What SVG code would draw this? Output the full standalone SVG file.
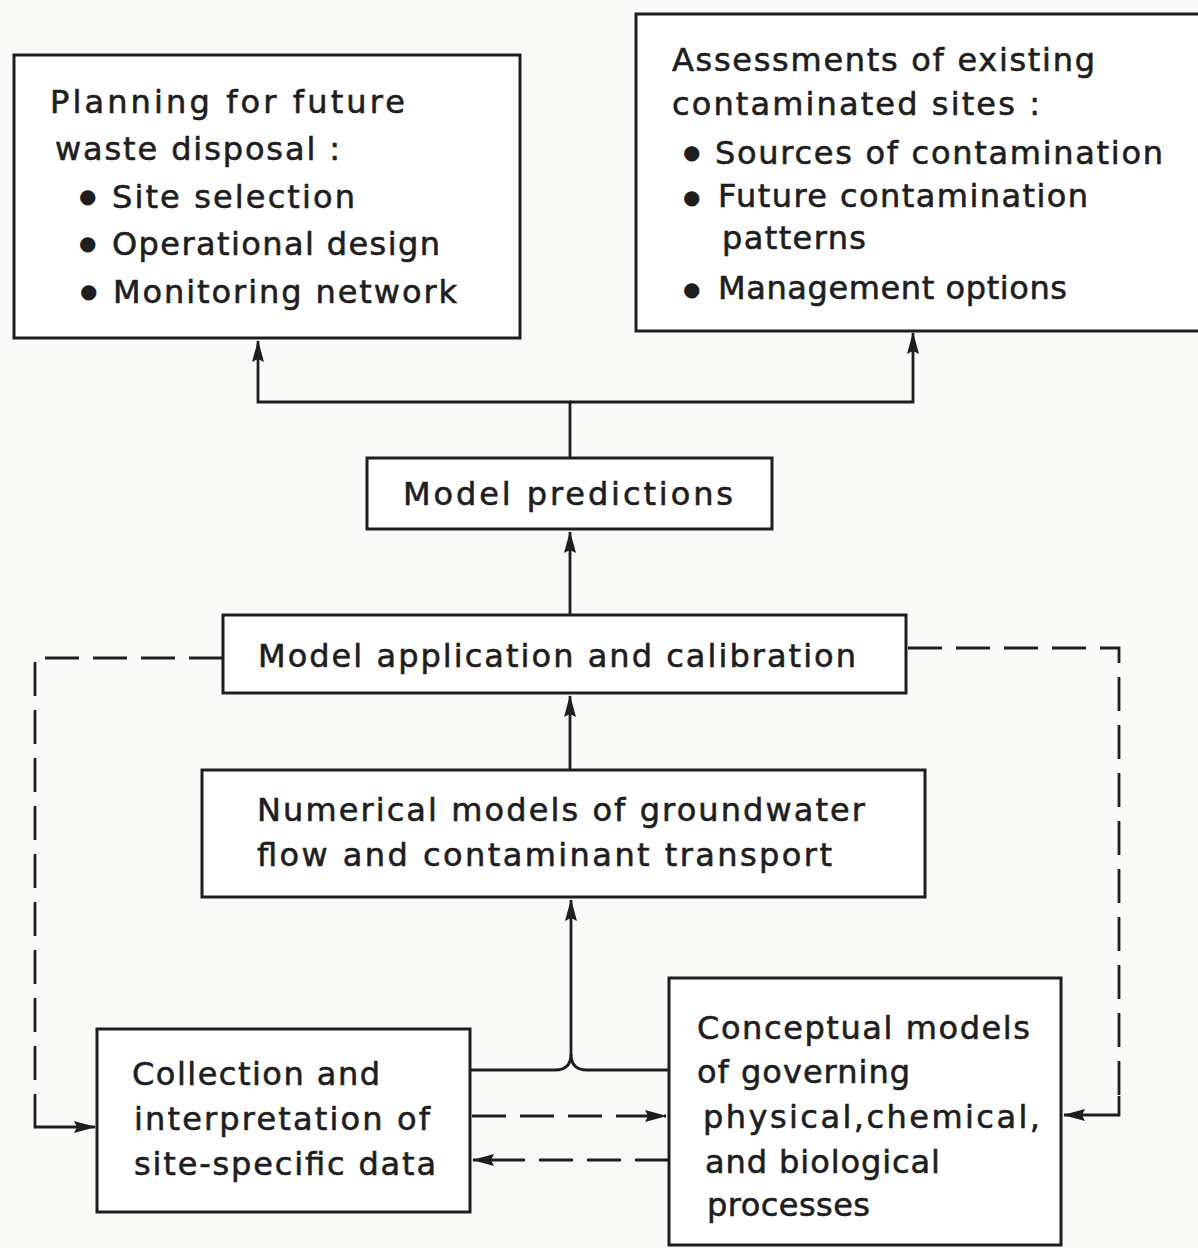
<svg xmlns="http://www.w3.org/2000/svg" width="1198" height="1248" viewBox="0 0 1198 1248">
  <defs>
    <style>
      .box { fill: #ffffff; stroke: #1e1e1e; stroke-width: 3; }
      .t { font-family: "DejaVu Sans", "Liberation Sans", sans-serif; font-size: 32px; fill: #1e1e1e; stroke: #1e1e1e; stroke-width: 0.6; }
      .b { font-family: "DejaVu Sans", "Liberation Sans", sans-serif; font-size: 20px; fill: #1e1e1e; }
      .line { fill: none; stroke: #1e1e1e; stroke-width: 2.8; }
      .dash { fill: none; stroke: #1e1e1e; stroke-width: 2.8; stroke-dasharray: 34 14; }
    </style>
    <marker id="arr" markerWidth="22" markerHeight="14" refX="21" refY="7" orient="auto" markerUnits="userSpaceOnUse">
      <path d="M0,1 L22,7 L0,13 L3,7 Z" fill="#1e1e1e"/>
    </marker>
  </defs>
  <rect x="0" y="0" width="1198" height="1248" fill="#fafaf8"/>

  <g id="connectors">
    <path class="line" d="M570,458 V402 H258 V341" marker-end="url(#arr)"/>
    <path class="line" d="M570,402 H913 V333" marker-end="url(#arr)"/>
    <path class="line" d="M570,615 V532" marker-end="url(#arr)"/>
    <path class="line" d="M570,770 V696" marker-end="url(#arr)"/>
    <path class="line" d="M470,1070 H555 Q571,1070 571,1054 V900" marker-end="url(#arr)"/>
    <path class="line" d="M669,1070 H587 Q571,1070 571,1054"/>
    <path class="dash" d="M223,658 H35 V1092"/>
    <path class="line" d="M35,1094 V1127 H95" marker-end="url(#arr)"/>
    <path class="dash" d="M908,648 H1119 V1098"/>
    <path class="line" d="M1119,1096 V1115 H1064" marker-end="url(#arr)"/>
    <path class="dash" d="M472,1116 H666" marker-end="url(#arr)"/>
    <path class="dash" d="M669,1160 H473" marker-end="url(#arr)"/>
  </g>

  <g id="planning">
    <rect class="box" x="14" y="55" width="506" height="283"/>
    <text class="t" x="50" y="113" textLength="355" lengthAdjust="spacing">Planning for future</text>
    <text class="t" x="55" y="160" textLength="285" lengthAdjust="spacing">waste disposal :</text>
    <text class="b" x="79" y="203">●</text>
    <text class="t" x="112" y="208" textLength="243" lengthAdjust="spacing">Site selection</text>
    <text class="b" x="79" y="250">●</text>
    <text class="t" x="112" y="255" textLength="328" lengthAdjust="spacing">Operational design</text>
    <text class="b" x="80" y="298">●</text>
    <text class="t" x="113" y="303" textLength="344" lengthAdjust="spacing">Monitoring network</text>
  </g>

  <g id="assessments">
    <rect class="box" x="636" y="14" width="566" height="317"/>
    <text class="t" x="672" y="71" textLength="423" lengthAdjust="spacing">Assessments of existing</text>
    <text class="t" x="672" y="115" textLength="368" lengthAdjust="spacing">contaminated sites :</text>
    <text class="b" x="683" y="159">●</text>
    <text class="t" x="715" y="164" textLength="448" lengthAdjust="spacing">Sources of contamination</text>
    <text class="b" x="683" y="204">●</text>
    <text class="t" x="718" y="207" textLength="370" lengthAdjust="spacing">Future contamination</text>
    <text class="t" x="722" y="249" textLength="144" lengthAdjust="spacing">patterns</text>
    <text class="b" x="683" y="296">●</text>
    <text class="t" x="718" y="299" textLength="349" lengthAdjust="spacing">Management options</text>
  </g>

  <g id="predictions">
    <rect class="box" x="367" y="458" width="405" height="71"/>
    <text class="t" x="403" y="505" textLength="330" lengthAdjust="spacing">Model predictions</text>
  </g>

  <g id="application">
    <rect class="box" x="223" y="615" width="683" height="78"/>
    <text class="t" x="258" y="667" textLength="598" lengthAdjust="spacing">Model application and calibration</text>
  </g>

  <g id="numerical">
    <rect class="box" x="202" y="770" width="723" height="127"/>
    <text class="t" x="257" y="821" textLength="608" lengthAdjust="spacing">Numerical models of groundwater</text>
    <text class="t" x="257" y="866" textLength="575" lengthAdjust="spacing">flow and contaminant transport</text>
  </g>

  <g id="collection">
    <rect class="box" x="97" y="1029" width="373" height="183"/>
    <text class="t" x="132" y="1085" textLength="248" lengthAdjust="spacing">Collection and</text>
    <text class="t" x="134" y="1130" textLength="296" lengthAdjust="spacing">interpretation of</text>
    <text class="t" x="134" y="1175" textLength="302" lengthAdjust="spacing">site-specific data</text>
  </g>

  <g id="conceptual">
    <rect class="box" x="669" y="978" width="392" height="267"/>
    <text class="t" x="697" y="1039" textLength="333" lengthAdjust="spacing">Conceptual models</text>
    <text class="t" x="697" y="1083" textLength="213" lengthAdjust="spacing">of governing</text>
    <text class="t" x="703" y="1128" textLength="337" lengthAdjust="spacing">physical,chemical,</text>
    <text class="t" x="705" y="1173" textLength="235" lengthAdjust="spacing">and biological</text>
    <text class="t" x="707" y="1216" textLength="163" lengthAdjust="spacing">processes</text>
  </g>
</svg>
